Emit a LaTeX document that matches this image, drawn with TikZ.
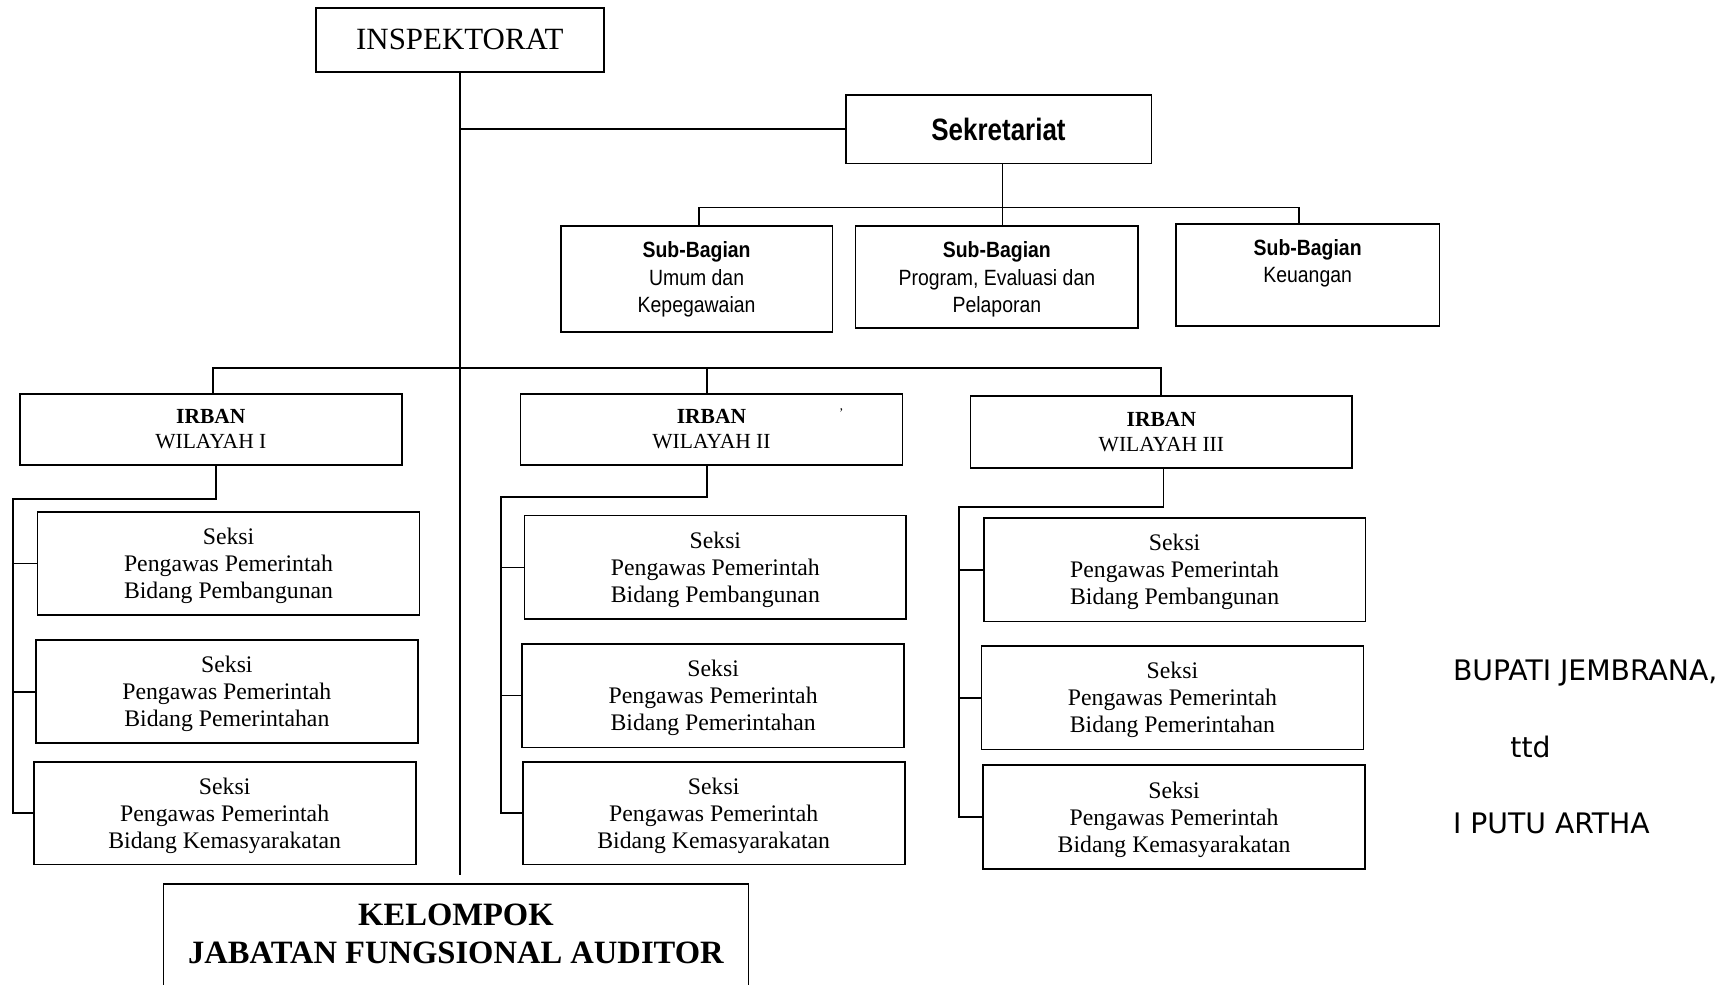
\documentclass[tikz,border=0pt]{standalone}
\usepackage{fontspec}
\setmainfont{Liberation Serif}
\newfontfamily\sekfont[FakeStretch=0.84]{Liberation Sans}
\newfontfamily\subfont[FakeStretch=0.88]{Liberation Sans}
\newfontfamily\signfont{DejaVu Sans}
\begin{document}
\begin{tikzpicture}[x=1pt,y=-1pt,
  box/.style={draw, line width=1.6pt, inner sep=0pt, align=center},
  wire/.style={line width=1.6pt},
  seksi/.style={box, minimum width=346pt, minimum height=94pt, text depth=0pt,
    font=\fontsize{21.5}{24.5}\selectfont},
  irban/.style={box, minimum width=346pt, minimum height=64pt,
    font=\fontsize{19.5}{22.5}\selectfont},
  subbag/.style={box, minimum height=92pt,
    font=\subfont\fontsize{20}{25}\selectfont},
  sign/.style={anchor=west, inner sep=0pt,
    font=\signfont\fontsize{25.6}{30}\selectfont}]
\useasboundingbox (0,0) rectangle (1568,892);

% top level
\node[box, minimum width=261pt, minimum height=58pt,
  font=\fontsize{28}{30}\selectfont] (insp) at (416.5,36) {INSPEKTORAT};
\node[box, minimum width=277pt, minimum height=62pt,
  font=\sekfont\bfseries\fontsize{28}{30}\selectfont] (sek) at (904.5,117) {Sekretariat};

% sub-bagian
\node[subbag, minimum width=246pt, minimum height=96pt] (sb1) at (631,253)
  {\textbf{Sub-Bagian}\\Umum dan\\Kepegawaian};
\node[subbag, minimum width=256pt, text depth=0pt] (sb2) at (903,251)
  {\textbf{Sub-Bagian}\\Program, Evaluasi dan\\Pelaporan};
\node[subbag, minimum width=239pt] (sb3) at (1184.5,249)
  {\textbf{Sub-Bagian}\\Keuangan\\\mbox{}};

% irban
\node[irban] (ir1) at (191,389) {\textbf{IRBAN}\\WILAYAH I};
\node[irban] (ir2) at (644.5,389) {\textbf{IRBAN}\\WILAYAH II};
\node[irban, minimum height=65pt] (ir3) at (1052,391.5) {\textbf{IRBAN}\\WILAYAH III};
\node[inner sep=0pt, font=\fontsize{12}{12}\selectfont] (ir2tick) at (762,374) {'};

% seksi, column 1
\node[seksi, minimum height=93pt] (s11) at (207,510.5) {Seksi\\Pengawas Pemerintah\\Bidang Pembangunan};
\node[seksi, minimum height=93pt] (s12) at (205.5,626.5) {Seksi\\Pengawas Pemerintah\\Bidang Pemerintahan};
\node[seksi, minimum height=93pt] (s13) at (203.5,736.5) {Seksi\\Pengawas Pemerintah\\Bidang Kemasyarakatan};
% seksi, column 2
\node[seksi] (s21) at (648,514) {Seksi\\Pengawas Pemerintah\\Bidang Pembangunan};
\node[seksi] (s22) at (646,630) {Seksi\\Pengawas Pemerintah\\Bidang Pemerintahan};
\node[seksi, minimum height=93pt] (s23) at (646.5,736.5) {Seksi\\Pengawas Pemerintah\\Bidang Kemasyarakatan};
% seksi, column 3
\node[seksi] (s31) at (1064,516) {Seksi\\Pengawas Pemerintah\\Bidang Pembangunan};
\node[seksi] (s32) at (1062,632) {Seksi\\Pengawas Pemerintah\\Bidang Pemerintahan};
\node[seksi] (s33) at (1063.5,740) {Seksi\\Pengawas Pemerintah\\Bidang Kemasyarakatan};

% kelompok jabatan fungsional
\node[draw, line width=1.6pt, inner sep=0pt, minimum width=530pt, minimum height=130pt,
  anchor=north] (kel) at (413,800) {};
\node[align=center, inner sep=0pt, font=\bfseries\fontsize{29.5}{34}\selectfont]
  (kelText) at (413,846) {KELOMPOK\\JABATAN FUNGSIONAL AUDITOR};

% signature
\node[sign] (bupati) at (1316,610) {BUPATI JEMBRANA,};
\node[sign] (ttd) at (1368,677) {ttd};
\node[sign] (nama) at (1316,746) {I PUTU ARTHA};

% trunk and branches
\coordinate (trunkEnd) at (416,793);
\draw[wire] (insp.south) -- (insp.south |- trunkEnd);
\draw[wire] (sek.west -| insp.south) -- (sek.west);

\coordinate (sbBar) at (0,188);
\draw[wire] ([xshift=3.5pt]sek.south) -- ([xshift=3.5pt]sek.south |- sb2.north);
\draw[wire] ([xshift=2pt]sb1.north) -- ([xshift=2pt]sb1.north |- sbBar)
  -- ([xshift=-7.5pt]sb3.north |- sbBar) -- ([xshift=-7.5pt]sb3.north);

\coordinate (irBar) at (0,333);
\draw[wire] ([xshift=2pt]ir1.north) -- ([xshift=2pt]ir1.north |- irBar)
  -- (ir3.north |- irBar) -- (ir3.north);
\draw[wire] ([xshift=-4pt]ir2.north) -- ([xshift=-4pt]ir2.north |- irBar);

% column buses
\coordinate (bus1) at (12,452);
\draw[wire] ([xshift=5pt]ir1.south) |- (bus1) -- (bus1 |- s13.west) -- (s13.west);
\draw[wire] (bus1 |- s11.west) -- (s11.west);
\draw[wire] (bus1 |- s12.west) -- (s12.west);

\coordinate (bus2) at (454,450);
\draw[wire] ([xshift=-4pt]ir2.south) |- (bus2) -- (bus2 |- s23.west) -- (s23.west);
\draw[wire] (bus2 |- s21.west) -- (s21.west);
\draw[wire] (bus2 |- s22.west) -- (s22.west);

\coordinate (bus3) at (869,459);
\draw[wire] ([xshift=2pt]ir3.south) |- (bus3) -- (bus3 |- s33.west) -- (s33.west);
\draw[wire] (bus3 |- s31.west) -- (s31.west);
\draw[wire] (bus3 |- s32.west) -- (s32.west);
\end{tikzpicture}
\end{document}
